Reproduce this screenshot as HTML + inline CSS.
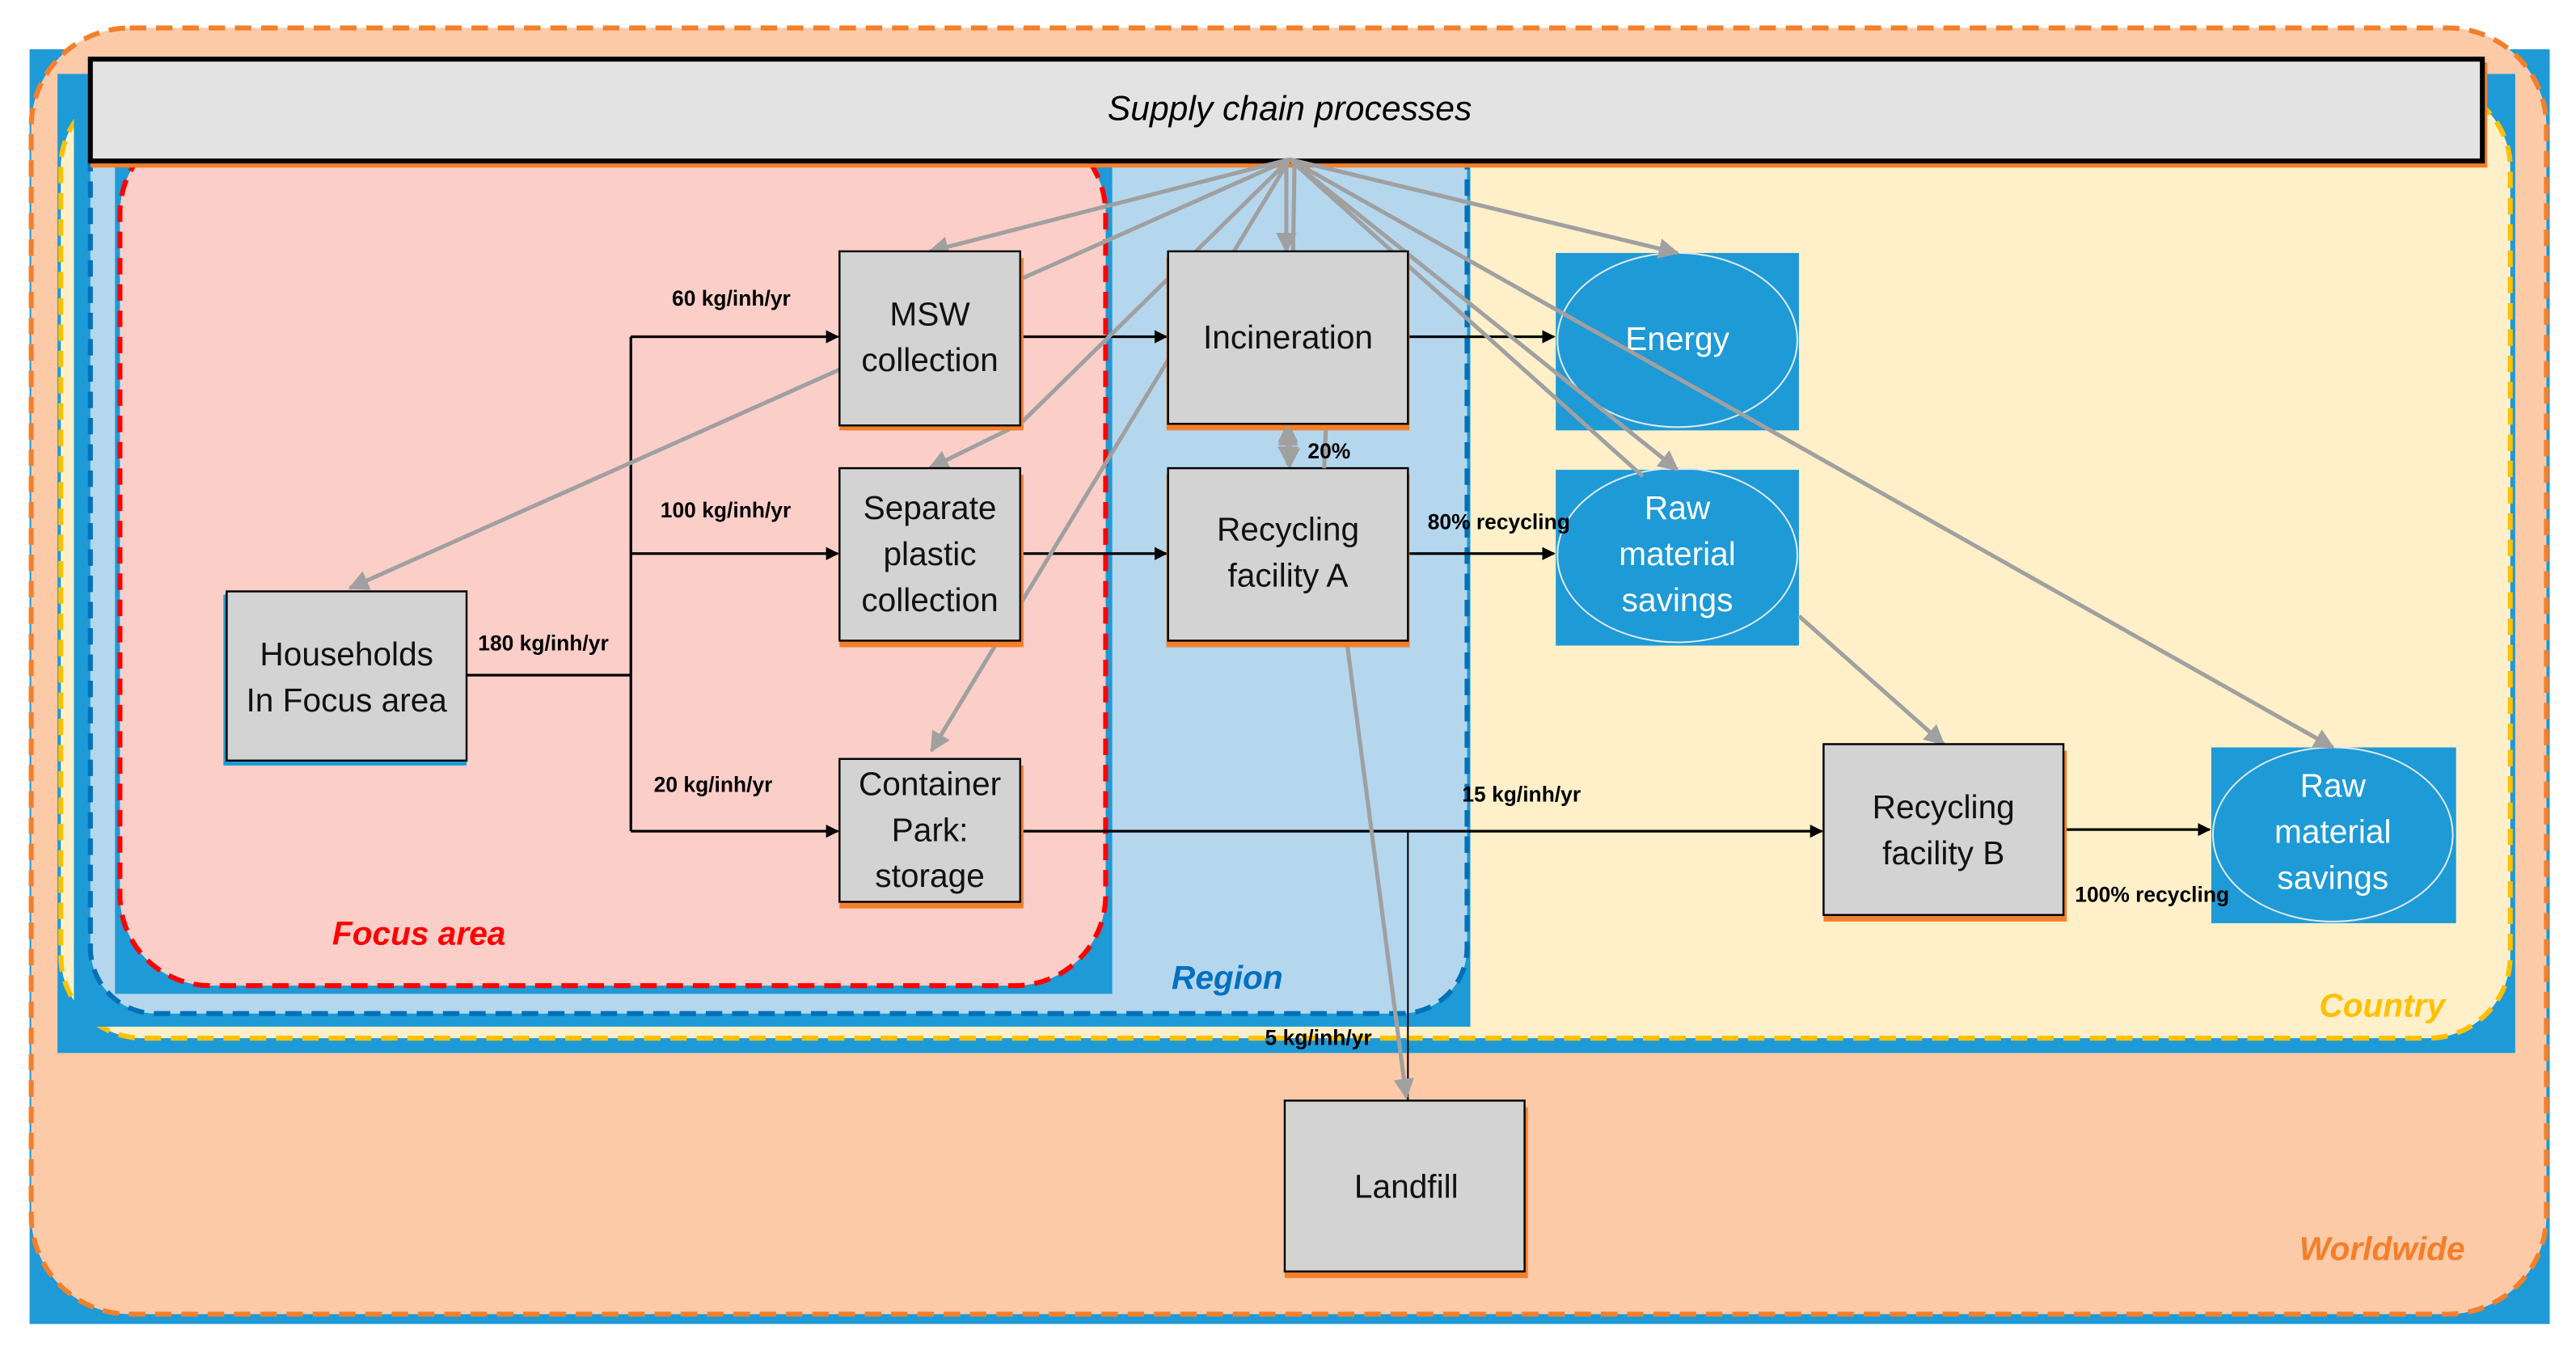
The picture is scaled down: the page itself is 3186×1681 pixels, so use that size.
<!DOCTYPE html>
<html><head><meta charset="utf-8"><style>
html,body{margin:0;padding:0;background:#fff;}
svg{display:block;}
text{font-family:"Liberation Sans Narrow","Liberation Sans",sans-serif;}
</style></head><body>
<svg width="3186" height="1681" viewBox="0 0 1568 827.3" preserveAspectRatio="none" xmlns="http://www.w3.org/2000/svg">
<defs>
<marker id="ab" viewBox="0 0 10 10" refX="9" refY="5" markerWidth="5" markerHeight="5" orient="auto"><path d="M0,0 L10,5 L0,10 z" fill="#000"/></marker>
<marker id="ag" viewBox="0 0 10 10" refX="9" refY="5" markerWidth="5" markerHeight="5" orient="auto"><path d="M0,0 L10,5 L0,10 z" fill="#A0A0A0"/></marker>
</defs>
<rect width="1568" height="827.3" fill="#fff"/>
<!-- Worldwide -->
<rect x="18" y="30" width="1534" height="776" fill="#1E9AD6"/>
<rect x="19" y="17" width="1531" height="783" rx="60" fill="#FDCAA8" stroke="#F47F2A" stroke-width="3" stroke-dasharray="10,6"/>
<!-- Country -->
<rect x="35" y="45" width="1496" height="596" fill="#1E9AD6"/>
<rect x="37" y="52" width="1491" height="580" rx="50" fill="#FFF0C9" stroke="#FFC000" stroke-width="3" stroke-dasharray="10,6"/>
<!-- Region -->
<rect x="45" y="60" width="850" height="565" fill="#1E9AD6"/>
<rect x="55" y="58" width="838" height="559" rx="40" fill="#B4D7EE" stroke="#0070B8" stroke-width="3" stroke-dasharray="10,6"/>
<!-- Focus -->
<rect x="70" y="85" width="607" height="520" fill="#1E9AD6"/>
<rect x="73" y="75" width="600" height="525" rx="55" fill="#FCCEC8" stroke="#FF0000" stroke-width="3" stroke-dasharray="10,6"/>
<!-- labels -->
<text x="255" y="575" font-size="20" font-weight="bold" font-style="italic" fill="#FF0000" text-anchor="middle">Focus area</text>
<text x="747" y="602" font-size="20" font-weight="bold" font-style="italic" fill="#0070C0" text-anchor="middle">Region</text>
<text x="1450" y="619" font-size="20" font-weight="bold" font-style="italic" fill="#FFC000" text-anchor="middle">Country</text>
<text x="1450" y="767" font-size="20" font-weight="bold" font-style="italic" fill="#F47F2A" text-anchor="middle">Worldwide</text>
<!-- Supply chain bar -->
<rect x="55" y="38" width="1459" height="64" fill="#F47F2A"/>
<rect x="55" y="36" width="1456" height="62" fill="#E3E3E3" stroke="#000" stroke-width="3"/>
<text x="785" y="73" font-size="21" font-style="italic" text-anchor="middle" fill="#000">Supply chain processes</text>
<!-- Blue nodes -->
<g fill="#1E9AD6">
<rect x="947" y="154" width="148" height="108"/>
<rect x="947" y="286" width="148" height="107"/>
<rect x="1346" y="455" width="149" height="107"/>
</g>
<g fill="none" stroke="#DDE9F3" stroke-width="1">
<ellipse cx="1021" cy="207" rx="73" ry="53"/>
<ellipse cx="1021" cy="338" rx="73" ry="53"/>
<ellipse cx="1420" cy="508" rx="73" ry="53"/>
</g>
<g fill="#fff" font-size="20" text-anchor="middle">
<text x="1021" y="213">Energy</text>
<text x="1021" y="316">Raw</text><text x="1021" y="344">material</text><text x="1021" y="372">savings</text>
<text x="1420" y="485">Raw</text><text x="1420" y="513">material</text><text x="1420" y="541">savings</text>
</g>
<!-- black connectors -->
<g stroke="#000" stroke-width="1.6" fill="none">
<path d="M284,411 H384 M384,205 V506"/>
<path d="M384,205 H510" marker-end="url(#ab)"/>
<path d="M384,337 H510" marker-end="url(#ab)"/>
<path d="M384,506 H510" marker-end="url(#ab)"/>
<path d="M621,205 H710" marker-end="url(#ab)"/>
<path d="M621,337 H710" marker-end="url(#ab)"/>
<path d="M857,205 H946" marker-end="url(#ab)"/>
<path d="M857,337 H946" marker-end="url(#ab)"/>
<path d="M621,506 H1109" marker-end="url(#ab)"/>
<path d="M1256,505 H1345" marker-end="url(#ab)"/>
<path d="M857,506 V670" stroke-width="1"/>
</g>
<!-- gray connectors (behind gray nodes) -->
<g stroke="#A0A0A0" stroke-width="2.5" fill="none" marker-end="url(#ag)">
<path d="M785,97 L566,153"/>
<path d="M785,97 L621,170 L511,225 L213,358"/>
<path d="M785,97 L621,258 L566,285"/>
<path d="M785,97 L567,457"/>
<path d="M783,97 L783,153"/>
<path d="M788,97 L785,284"/>
<path d="M785,97 L1021,154"/>
<path d="M785,97 L1021,286"/>
<path d="M785,97 L1000,290" marker-end="none"/>
<path d="M785,97 L1420,455"/>
<path d="M1095,375 L1183,453"/>
<path d="M820,392 L856,668"/>
<path d="M784,270 L784,258"/>
</g>
<!-- Gray nodes -->
<g stroke="#000" stroke-width="1.2" fill="#D3D3D3">
<rect x="136" y="362" width="148" height="104" fill="#1E9AD6" stroke="none"/>
<rect x="138" y="360" width="146" height="103"/>
<rect x="511" y="157" width="112" height="105" fill="#F47F2A" stroke="none"/>
<rect x="511" y="153" width="110" height="106"/>
<rect x="511" y="289" width="112" height="105" fill="#F47F2A" stroke="none"/>
<rect x="511" y="285" width="110" height="105"/>
<rect x="511" y="466" width="112" height="87" fill="#F47F2A" stroke="none"/>
<rect x="511" y="462" width="110" height="87"/>
<rect x="710" y="157" width="148" height="105" fill="#F47F2A" stroke="none"/>
<rect x="711" y="153" width="146" height="105"/>
<rect x="710" y="289" width="148" height="105" fill="#F47F2A" stroke="none"/>
<rect x="711" y="285" width="146" height="105"/>
<rect x="1110" y="457" width="148" height="104" fill="#F47F2A" stroke="none"/>
<rect x="1110" y="453" width="146" height="104"/>
<rect x="782" y="674" width="148" height="104" fill="#F47F2A" stroke="none"/>
<rect x="782" y="670" width="146" height="104"/>
</g>
<g font-size="20" text-anchor="middle" fill="#111">
<text x="211" y="405">Households</text><text x="211" y="433">In Focus area</text>
<text x="566" y="198">MSW</text><text x="566" y="226">collection</text>
<text x="566" y="316">Separate</text><text x="566" y="344">plastic</text><text x="566" y="372">collection</text>
<text x="566" y="484">Container</text><text x="566" y="512">Park:</text><text x="566" y="540">storage</text>
<text x="784" y="212">Incineration</text>
<text x="784" y="329">Recycling</text><text x="784" y="357">facility A</text>
<text x="1183" y="498">Recycling</text><text x="1183" y="526">facility B</text>
<text x="856" y="729">Landfill</text>
</g>
<!-- short gray double arrow between incineration and recycling A -->
<g stroke="#A0A0A0" stroke-width="2.5" fill="none">
<path d="M784,262 L784,283" marker-end="url(#ag)"/>
<path d="M784,280 L784,260" marker-end="url(#ag)"/>
<path d="M807,262 L806,285"/>
</g>
<!-- flow labels -->
<g font-size="13" font-weight="bold" fill="#000">
<text x="409" y="186">60 kg/inh/yr</text>
<text x="402" y="315">100 kg/inh/yr</text>
<text x="291" y="396">180 kg/inh/yr</text>
<text x="398" y="482">20 kg/inh/yr</text>
<text x="890" y="488">15 kg/inh/yr</text>
<text x="770" y="636">5 kg/inh/yr</text>
<text x="796" y="279">20%</text>
<text x="869" y="322">80% recycling</text>
<text x="1263" y="549">100% recycling</text>
</g>
</svg>
</body></html>
